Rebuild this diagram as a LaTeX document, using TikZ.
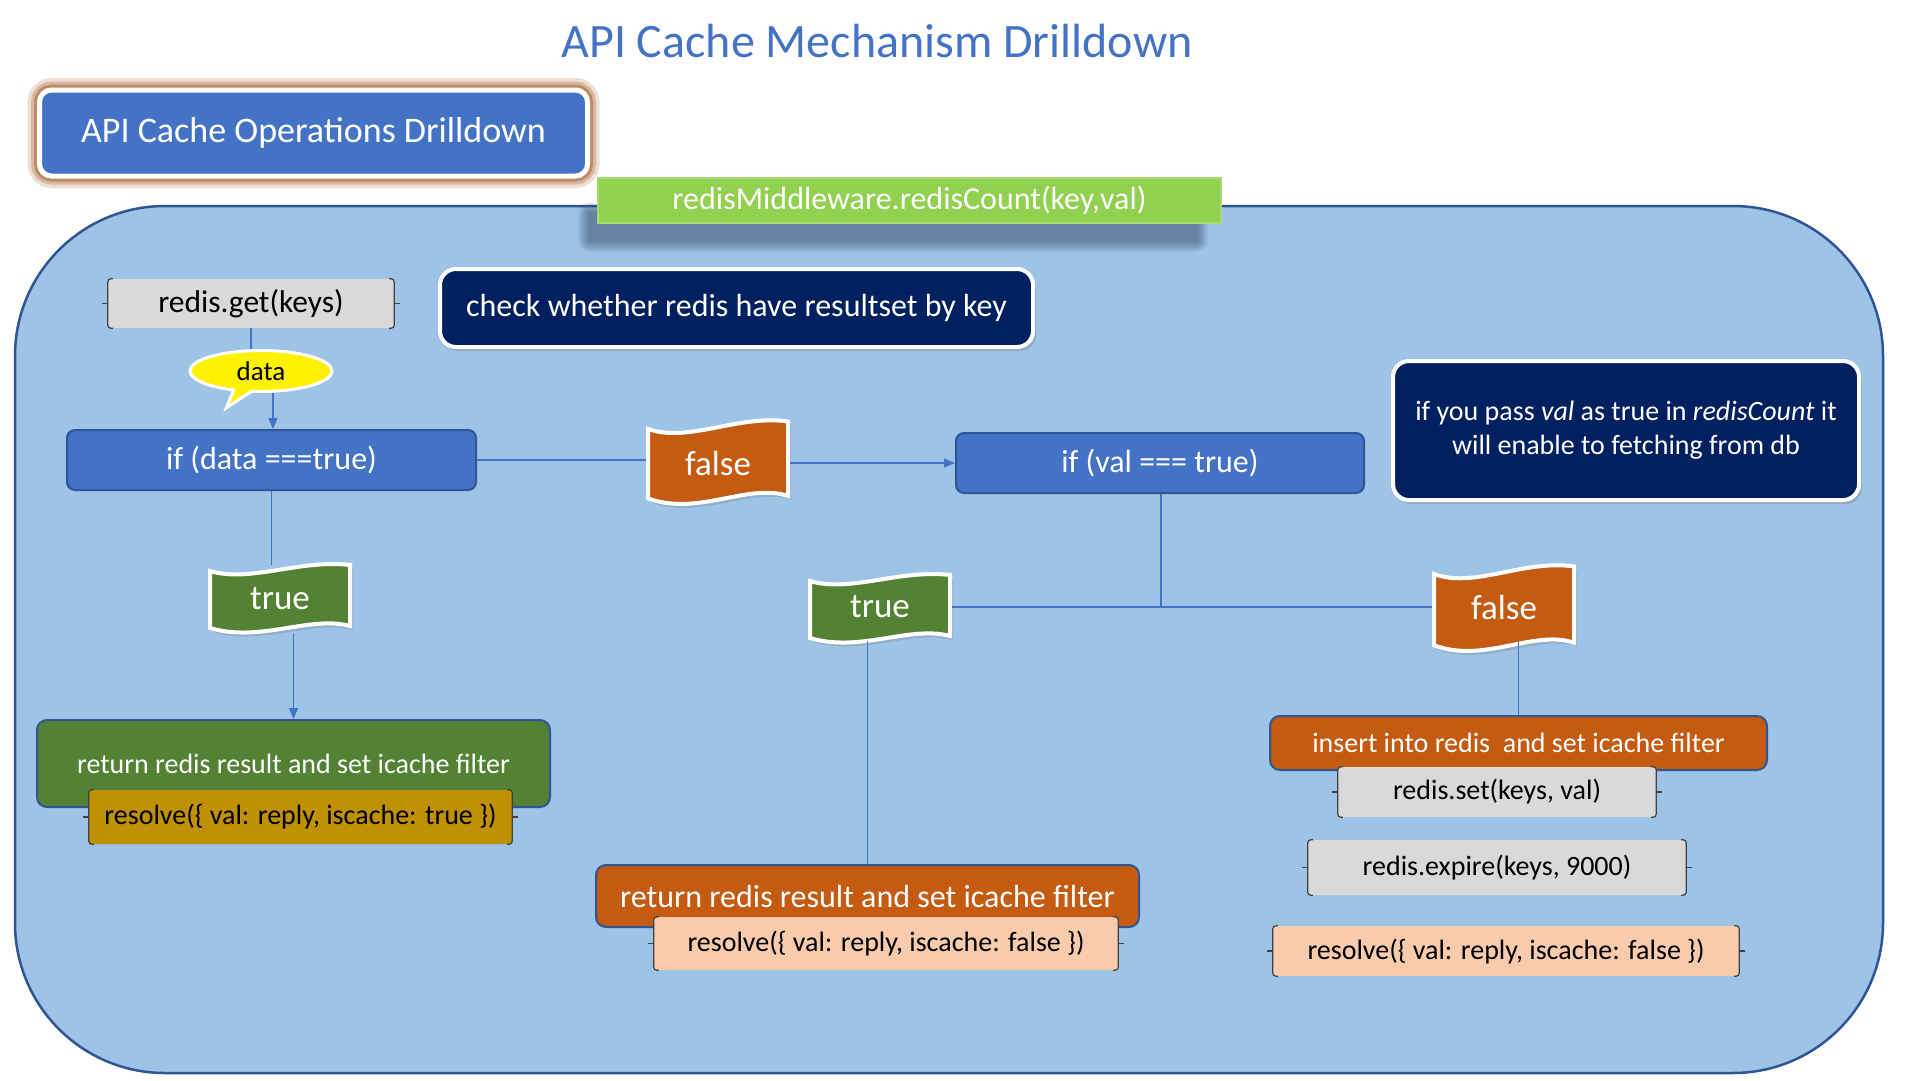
\documentclass[tikz,border=0pt]{standalone}
\usepackage{fontspec}
\setmainfont{Carlito}
\usetikzlibrary{shapes.callouts,shadows,arrows.meta}
\definecolor{bgblue}{HTML}{9DC3E6}
\definecolor{edgeblue}{HTML}{2F5597}
\definecolor{midblue}{HTML}{4472C4}
\definecolor{navyc}{HTML}{002060}
\definecolor{limec}{HTML}{92D050}
\definecolor{orangec}{HTML}{C55A11}
\definecolor{greenc}{HTML}{548235}
\definecolor{goldc}{HTML}{BF9000}
\definecolor{peachc}{HTML}{F8CBAD}
\definecolor{greyc}{HTML}{D9D9D9}
\definecolor{glowc}{HTML}{A8602C}
\definecolor{shadec}{HTML}{2E405C}
\tikzset{
  wave/.pic={
    \path[draw=white, line width=4pt, drop shadow={opacity=.3, shadow xshift=3pt, shadow yshift=-4pt}, pic actions]
      (-70,-28) .. controls (-30,-16) and (20,-40) .. (70,-34) -- (70,27)
      .. controls (30,16) and (-20,44) .. (-70,29) -- cycle;
  }
}
\begin{document}
\begin{tikzpicture}[x=1pt, y=-1pt,
  fsize/.style={font=\fontsize{#1}{#1}\selectfont},
  conn/.style={draw=midblue, line width=1.3pt},
  arr/.style={conn, -{Triangle[length=11pt,width=9pt]}},
  bluebox/.style={fill=midblue, draw=edgeblue, line width=2pt, rounded corners=8pt, text=white, inner sep=0pt, fsize=32},
  navybox/.style={fill=navyc, draw=white, line width=4pt, rounded corners=16pt, text=white, inner sep=0pt, align=center,
    drop shadow={opacity=.35, shadow xshift=3pt, shadow yshift=-4pt}, fsize=32},
  brbox/.style={rounded corners=3pt, inner sep=0pt, text=black, fsize=28},
  bracemark/.style={draw=black!75, line width=1.2pt},
  flagtxt/.style={text=white, inner sep=0pt, minimum width=143pt, minimum height=68pt, fsize=35},
  solidbox/.style={draw=edgeblue, line width=2pt, rounded corners=10pt, text=white, inner sep=0pt, fsize=28}]
\useasboundingbox (0,0) rectangle (1920,1080);
\fill[white] (0,0) rectangle (1920,1080);

\node[text=midblue, fsize=48] (title) at (877,41) {API Cache Mechanism Drilldown};
\node[fill=midblue, draw=white, line width=5pt, rounded corners=12pt, text=white, inner sep=0pt,
  minimum width=548pt, minimum height=86pt, fsize=36,
  preaction={draw=glowc, line width=24pt, draw opacity=.2},
  preaction={draw=glowc, line width=17pt, draw opacity=.3},
  preaction={draw=glowc, line width=11pt, draw opacity=.5}] (ops) at (313.5,133) {API Cache Operations Drilldown};

\path[fill=bgblue, draw=edgeblue, line width=2.5pt, rounded corners=150pt] (15,206) rectangle (1883,1073);

\foreach \k in {1,...,12}
  \fill[shadec, opacity=.05, rounded corners=\k pt] (590-\k,214-\k) rectangle (1196+\k,240+\k);

\node[fill=limec, draw=limec!80!white, line width=1.5pt, text=white, inner sep=0pt, minimum width=623pt, minimum height=45pt, fsize=32] (bar) at (909.5,200.5) {redisMiddleware.redisCount(key,val)};

\node[brbox, fill=greyc, minimum width=286pt, minimum height=49pt, fsize=31.5] (get) at (251,303.5) {redis.get(keys)};
\node[navybox, minimum width=593pt, minimum height=78pt] (check) at (736.5,308) {check whether redis have resultset by key};
\node[ellipse callout, fill=yellow, draw=white, line width=3pt, inner sep=0pt, minimum width=142pt, minimum height=41pt, fsize=27,
  callout relative pointer={(-16pt,-17pt)}] (data) at (261,371) {data};

\node[bluebox, minimum width=409pt, minimum height=60pt] (ifdata) at (271.5,460) {if (data ===true)};
\node[bluebox, minimum width=408pt, minimum height=60pt] (ifval) at (1160,463) {if (val === true)};
\node[navybox, minimum width=466pt, minimum height=139pt, font=\fontsize{28}{34}\selectfont] (note) at (1626,430.5)
  {if you pass \textit{val} as true in \textit{redisCount} it\\will enable to fetching from db};

\pic[fill=orangec, yscale=1.22] at (718,463) {wave};
\node[flagtxt] (fa) at (718,463) {false};
\pic[fill=greenc] at (280,599) {wave};
\node[flagtxt] (ta) at (280,599) {true};
\pic[fill=greenc] at (880,609) {wave};
\node[flagtxt] (tb) at (880,607) {true};
\pic[fill=orangec, yscale=1.25] at (1504,609) {wave};
\node[flagtxt] (fb) at (1504,607) {false};

\node[solidbox, fill=greenc, minimum width=513pt, minimum height=87pt] (gbox) at (293.5,763.5) {return redis result and set icache filter};
\node[brbox, fill=goldc, minimum width=423pt, minimum height=54pt] (gold) at (300.5,817) {resolve(\{ val: reply, iscache: true \})};
\node[solidbox, fill=orangec, minimum width=543pt, minimum height=62pt, fsize=32] (obox) at (867.5,896) {return redis result and set icache filter};
\node[brbox, fill=peachc, minimum width=464pt, minimum height=53pt] (peachA) at (886,943.5) {resolve(\{ val: reply, iscache: false \})};
\node[solidbox, fill=orangec, minimum width=497pt, minimum height=54pt] (ins) at (1518.5,743) {insert into redis\ \ and set icache filter};
\node[brbox, fill=greyc, minimum width=318pt, minimum height=50pt] (set) at (1497,792) {redis.set(keys, val)};
\node[brbox, fill=greyc, minimum width=378pt, minimum height=55pt] (expire) at (1497,867.5) {redis.expire(keys, 9000)};
\node[brbox, fill=peachc, minimum width=466pt, minimum height=50pt] (peachB) at (1506,951) {resolve(\{ val: reply, iscache: false \})};

\foreach \n in {get,gold,peachA,set,expire,peachB} {
  \draw[bracemark, rounded corners=3pt] ([xshift=5pt]\n.north west) -- (\n.north west) -- (\n.south west) -- ([xshift=5pt]\n.south west);
  \draw[bracemark] ([xshift=-6pt]\n.west) -- (\n.west);
  \draw[bracemark, rounded corners=3pt] ([xshift=-5pt]\n.north east) -- (\n.north east) -- (\n.south east) -- ([xshift=-5pt]\n.south east);
  \draw[bracemark] ([xshift=6pt]\n.east) -- (\n.east);
}

\coordinate (split) at (1161,607);
\draw[conn] (get.south) -- (get.south |- data.north);
\draw[arr] ([xshift=12pt]data.south) -- ([xshift=12pt]data.south |- ifdata.north);
\draw[conn] (ifdata.east) -- (ifdata.east -| fa.west);
\draw[arr] (fa.east) -- (ifval.west);
\draw[conn] (ifdata.south) -- (ifdata.south |- ta.north);
\draw[arr] (ta.south -| gbox.north) -- (gbox.north);
\draw[conn] (ifval.south -| split) -- (split);
\draw[conn] (tb.east) -- (fb.west);
\draw[conn] (obox.north |- tb.south) -- (obox.north);
\draw[conn] (ins.north |- fb.south) -- (ins.north);
\end{tikzpicture}
\end{document}
